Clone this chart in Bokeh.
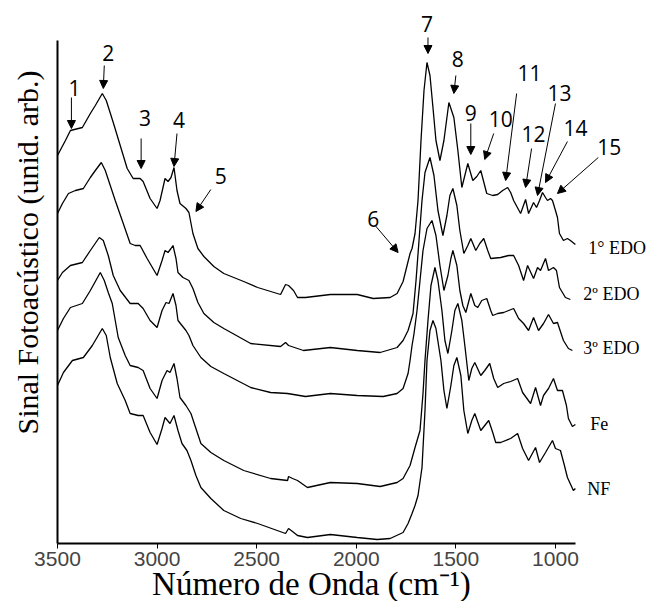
import math
from bokeh.plotting import figure
from bokeh.models import Range1d, FixedTicker, Label, Arrow, NormalHead
from bokeh.embed import file_html
from bokeh.resources import INLINE

# ---- data (wavenumber in cm-1, signal in arbitrary units) ----
wn_1 = [3500, 3460, 3435, 3375, 3335, 3310, 3275, 3255, 3220, 3185, 3150, 3120, 3085, 3070, 3035, 3000,
        2985, 2960, 2945, 2930, 2915, 2900, 2885, 2855, 2840, 2820, 2795, 2765, 2715, 2665, 2565, 2495,
        2380, 2355, 2340, 2315, 2295, 2255, 2130, 1995, 1915, 1830, 1795, 1765, 1745, 1730, 1720, 1705,
        1690, 1675, 1660, 1645, 1630, 1615, 1600, 1580, 1560, 1535, 1510, 1490, 1470, 1455, 1440, 1415,
        1395, 1375, 1345, 1315, 1290, 1265, 1240, 1225, 1210, 1175, 1150, 1135, 1110, 1095, 1080, 1065,
        1050, 1040, 1025, 1015, 1000, 990, 980, 960, 940, 925, 900]
sig_1 = [388, 403, 413, 416, 430, 438, 450, 443, 421, 398, 375, 365, 365, 362, 345, 335,
         343, 365, 362, 366, 376, 353, 340, 335, 331, 310, 295, 287, 277, 270, 262, 256,
         249, 259, 258, 253, 246, 246, 249, 249, 245, 246, 250, 262, 278, 290, 295, 310,
         343, 403, 453, 481, 468, 436, 403, 383, 403, 441, 426, 393, 356, 368, 380, 363,
         367, 373, 350, 348, 349, 353, 356, 351, 343, 330, 344, 330, 341, 336, 343, 351,
         346, 343, 345, 343, 333, 326, 310, 303, 305, 303, 299]

wn_2 = [3500, 3475, 3445, 3410, 3370, 3335, 3310, 3280, 3260, 3235, 3210, 3175, 3135, 3110, 3085, 3050,
        3000, 2975, 2960, 2945, 2930, 2920, 2905, 2895, 2870, 2840, 2820, 2795, 2765, 2715, 2665, 2530,
        2380, 2355, 2340, 2265, 2130, 1995, 1880, 1795, 1765, 1740, 1725, 1715, 1700, 1685, 1670, 1655,
        1630, 1610, 1590, 1565, 1545, 1530, 1515, 1495, 1480, 1460, 1440, 1425, 1400, 1380, 1360, 1340,
        1325, 1275, 1235, 1210, 1185, 1160, 1140, 1110, 1090, 1075, 1050, 1035, 1010, 995, 980, 950, 925]
sig_2 = [330, 340, 350, 353, 355, 366, 373, 381, 373, 358, 343, 323, 300, 298, 298, 285,
         268, 283, 293, 291, 295, 298, 285, 271, 266, 263, 255, 241, 230, 221, 215, 200,
         197, 201, 198, 193, 196, 193, 191, 196, 203, 213, 223, 230, 263, 303, 343, 371,
         386, 368, 333, 308, 328, 348, 355, 338, 313, 290, 298, 305, 293, 300, 305, 293,
         285, 286, 288, 288, 278, 263, 278, 265, 276, 273, 285, 273, 276, 273, 256, 246, 244]

wn_3 = [3500, 3475, 3435, 3375, 3335, 3290, 3270, 3245, 3220, 3185, 3135, 3095, 3070, 3035, 3000, 2975,
        2955, 2940, 2920, 2905, 2895, 2855, 2840, 2820, 2780, 2730, 2665, 2530, 2430, 2345, 2255, 2130,
        1995, 1865, 1795, 1765, 1740, 1730, 1720, 1710, 1695, 1680, 1665, 1645, 1620, 1600, 1580, 1560,
        1540, 1525, 1515, 1495, 1480, 1465, 1450, 1425, 1405, 1390, 1370, 1345, 1325, 1315, 1290, 1260,
        1235, 1210, 1185, 1160, 1135, 1110, 1085, 1060, 1035, 1010, 990, 960, 935, 915]
sig_3 = [263, 271, 278, 281, 293, 306, 303, 288, 268, 253, 240, 240, 235, 223, 216, 233,
         241, 240, 250, 238, 223, 213, 208, 198, 186, 177, 170, 156, 151, 150, 147, 150,
         148, 147, 150, 155, 170, 183, 198, 210, 233, 263, 293, 315, 323, 308, 278, 253,
         268, 285, 293, 278, 253, 238, 231, 250, 238, 236, 243, 245, 233, 228, 230, 231,
         233, 235, 225, 220, 213, 226, 213, 220, 229, 220, 221, 203, 195, 193]

wn_4 = [3500, 3470, 3435, 3375, 3335, 3285, 3265, 3245, 3225, 3195, 3160, 3135, 3095, 3070, 3035, 3000,
        2975, 2950, 2935, 2915, 2900, 2885, 2855, 2830, 2805, 2780, 2730, 2665, 2565, 2430, 2345, 2340,
        2320, 2295, 2245, 2130, 1995, 1880, 1795, 1765, 1730, 1705, 1680, 1665, 1655, 1640, 1625, 1605,
        1590, 1570, 1555, 1540, 1520, 1505, 1490, 1470, 1455, 1435, 1420, 1405, 1375, 1355, 1330, 1310,
        1290, 1260, 1225, 1190, 1165, 1125, 1100, 1075, 1060, 1035, 1010, 990, 965, 945, 935, 915, 900]
sig_4 = [213, 225, 236, 240, 253, 271, 263, 251, 240, 206, 188, 178, 176, 173, 155, 145,
         163, 173, 171, 180, 165, 146, 138, 130, 115, 100, 91, 83, 73, 65, 63, 67,
         65, 63, 56, 61, 60, 57, 61, 65, 78, 96, 113, 150, 183, 223, 258, 276,
         263, 233, 203, 190, 213, 233, 240, 223, 198, 163, 175, 181, 168, 173, 180, 165,
         156, 160, 162, 165, 151, 140, 156, 138, 148, 155, 165, 153, 153, 138, 125, 117, 119]

wn_5 = [3500, 3470, 3425, 3370, 3325, 3275, 3255, 3235, 3200, 3160, 3135, 3095, 3070, 3035, 3000, 2975,
        2960, 2935, 2915, 2895, 2875, 2850, 2830, 2805, 2780, 2730, 2665, 2580, 2495, 2355, 2340, 2320,
        2295, 2245, 2130, 1995, 1895, 1830, 1765, 1740, 1720, 1705, 1690, 1670, 1655, 1645, 1630, 1615,
        1600, 1575, 1560, 1545, 1525, 1510, 1495, 1475, 1460, 1440, 1420, 1405, 1375, 1355, 1335, 1315,
        1300, 1275, 1225, 1190, 1165, 1135, 1100, 1080, 1050, 1015, 1000, 975, 955, 940, 910, 900]
sig_5 = [158, 171, 183, 186, 198, 215, 208, 186, 160, 143, 130, 128, 128, 111, 99, 115,
         126, 120, 128, 113, 100, 93, 83, 68, 56, 45, 33, 25, 20, 10, 15, 12,
         8, 6, 9, 6, 4, 5, 11, 20, 30, 38, 48, 76, 133, 183, 213, 223,
         215, 183, 153, 135, 158, 178, 186, 168, 133, 110, 123, 130, 113, 118, 123, 111,
         101, 101, 105, 110, 95, 83, 96, 81, 91, 103, 95, 93, 78, 66, 53, 55]

series = [(wn_1, sig_1), (wn_2, sig_2), (wn_3, sig_3), (wn_4, sig_4), (wn_5, sig_5)]

# sample names (right-hand labels)
sample_names = ["1° EDO", "2º EDO", "3º EDO", "Fe", "NF"]
sample_label_x = [835, 860, 860, 825, 840]
sample_label_y = [296, 250, 196, 120, 55]

# band numbers with arrow (text position, arrow start, arrow tip)
band_numbers = ["1", "2", "3", "4", "5", "6", "7", "8", "9", "10", "11", "12", "13", "14", "15"]
band_text_x = [3415, 3245, 3060, 2890, 2680, 1915, 1645, 1490, 1425, 1275, 1130, 1110, 980, 900, 730]
band_text_y = [456, 491, 426, 424, 368, 325, 520, 485, 431, 425, 471, 410, 451, 416, 397]
arrow_x0 = [3430, 3265, 3080, 2900, 2730, 1905, 1640, 1500, 1425, 1310, 1195, 1120, 1000, 940, 785]
arrow_y0 = [446, 478, 405, 410, 354, 318, 506, 468, 420, 410, 450, 395, 440, 402, 386]
arrow_x1 = [3430, 3270, 3080, 2915, 2805, 1790, 1640, 1510, 1425, 1355, 1250, 1150, 1090, 1050, 990]
arrow_y1 = [415, 455, 375, 377, 332, 291, 490, 450, 389, 384, 363, 356, 348, 361, 350]

x_ticks = [3500, 3000, 2500, 2000, 1500, 1000]
x_axis_bounds = (900, 3500)
y_axis_bounds = (0, 503)

x_title = "Número de Onda (cm⁻¹)"
y_title = "Sinal Fotoacústico (unid. arb.)"

# ---- figure (frame covers the page; axes drawn at fixed data locations) ----
p = figure(width=647, height=601, output_backend="svg", toolbar_location=None,
           x_range=Range1d(3786, 538), y_range=Range1d(-58, 543),
           min_border=0)
p.outline_line_color = None
p.grid.visible = False
p.background_fill_color = "white"
p.border_fill_color = "white"

for wn, sig in series:
    p.line(wn, sig, line_color="black", line_width=1.3)

# x axis
xa = p.xaxis[0]
xa.fixed_location = y_axis_bounds[0]
xa.bounds = x_axis_bounds
xa.ticker = FixedTicker(ticks=x_ticks)
xa.minor_tick_line_color = None
xa.major_tick_in = 0
xa.major_tick_out = 5
xa.axis_line_width = 2
xa.major_tick_line_width = 1
xa.major_label_text_font = "Liberation Sans"
xa.major_label_text_font_size = "21px"
xa.major_label_standoff = 3

# y axis
ya = p.yaxis[0]
ya.fixed_location = x_axis_bounds[1]
ya.bounds = y_axis_bounds
ya.ticker = FixedTicker(ticks=[])
ya.minor_tick_line_color = None
ya.major_tick_out = 0
ya.major_tick_in = 0
ya.axis_line_width = 2

# axis titles
p.add_layout(Label(x=2225, y=-40, text=x_title, text_align="center", text_baseline="middle",
                   text_font="Liberation Serif", text_font_size="33px", text_color="black"))
p.add_layout(Label(x=3648, y=291, text=y_title, angle=math.pi / 2, text_align="center",
                   text_baseline="middle", text_font="Liberation Serif", text_font_size="30px",
                   text_color="black"))

for name, lx, ly in zip(sample_names, sample_label_x, sample_label_y):
    p.add_layout(Label(x=lx, y=ly, text=name, text_align="left", text_baseline="middle",
                       text_font="Liberation Serif", text_font_size="18px", text_color="black"))

for t, tx, ty, x0, y0, x1, y1 in zip(band_numbers, band_text_x, band_text_y,
                                      arrow_x0, arrow_y0, arrow_x1, arrow_y1):
    p.add_layout(Label(x=tx, y=ty, text=t, text_align="center", text_baseline="middle",
                       text_font="Open Sans", text_font_size="21px", text_color="black"))
    p.add_layout(Arrow(x_start=x0, y_start=y0, x_end=x1, y_end=y1, line_width=1, line_color="black",
                       end=NormalHead(size=8, fill_color="black", line_color="black")))

open("out.html", "w").write(file_html(p, INLINE))
